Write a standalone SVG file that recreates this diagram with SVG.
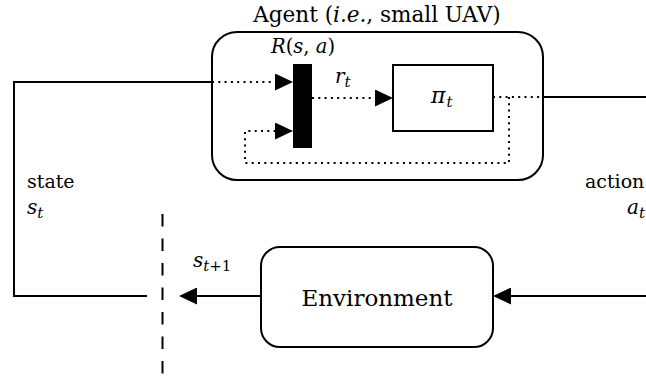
<svg xmlns="http://www.w3.org/2000/svg" width="646" height="378" viewBox="0 0 646 378">
<style>
  text { font-family: "DejaVu Serif", "Liberation Serif", serif; fill: #000; }
  .it { font-style: italic; }
  .box { fill: #fff; stroke: #000; stroke-width: 2; }
  .solid { fill: none; stroke: #000; stroke-width: 2; }
  .dot { fill: none; stroke: #000; stroke-width: 2; stroke-dasharray: 2 4.3; }
  .dash { fill: none; stroke: #000; stroke-width: 2; stroke-dasharray: 12.5 12; }
</style>
<defs>
  <marker id="ah" markerUnits="userSpaceOnUse" viewBox="0 0 18 17" refX="0" refY="8.5" markerWidth="18" markerHeight="17" orient="auto">
    <path d="M0,0 L18,8.5 L0,17 Z" fill="#000"/>
  </marker>
</defs>

<g id="agent">
  <rect class="box" x="212" y="32" width="331" height="148" rx="25" ry="25"/>
  <text x="377" y="22" font-size="21.5" text-anchor="middle">Agent (<tspan class="it">i.e.</tspan>, small UAV)</text>
</g>

<g id="reward">
  <rect x="293" y="64" width="19" height="84" fill="#000"/>
  <text x="303" y="53" font-size="19.5" text-anchor="middle"><tspan class="it">R</tspan>(<tspan class="it">s</tspan>, <tspan class="it">a</tspan>)</text>
</g>

<g id="policy">
  <rect class="box" x="393" y="65" width="100" height="66"/>
  <text x="431" y="103" font-size="22"><tspan class="it">π</tspan><tspan class="it" font-size="15" dx="1" dy="4">t</tspan></text>
</g>

<g id="environment">
  <rect class="box" x="261" y="247" width="232" height="100" rx="19" ry="19"/>
  <text x="377" y="306" font-size="23" text-anchor="middle">Environment</text>
</g>

<g id="connectors">
  <path class="solid" d="M212,82 H14 V296 H147"/>
  <path class="dot" d="M212,82 H275" marker-end="url(#ah)"/>
  <path class="dot" d="M312,98 H375" marker-end="url(#ah)"/>
  <path class="dot" d="M493,97 H543"/>
  <path class="dot" d="M509,97 V163 H245 V131 H275" marker-end="url(#ah)"/>
  <path class="solid" d="M543,97 H646"/>
  <path class="solid" d="M646,296 H511" marker-end="url(#ah)"/>
  <path class="solid" d="M261,296 H197" marker-end="url(#ah)"/>
  <path class="dash" d="M162.5,214 V375"/>
</g>

<g id="labels">
  <text x="335" y="83" font-size="20"><tspan class="it">r</tspan><tspan class="it" font-size="15" dy="4">t</tspan></text>
  <text x="27" y="188" font-size="19">state</text>
  <text x="27" y="214" font-size="20"><tspan class="it">s</tspan><tspan class="it" font-size="15" dy="4">t</tspan></text>
  <text x="585" y="188" font-size="19">action</text>
  <text x="627" y="214" font-size="20"><tspan class="it">a</tspan><tspan class="it" font-size="15" dy="4">t</tspan></text>
  <text x="193" y="267" font-size="20"><tspan class="it">s</tspan><tspan font-size="15" dy="4"><tspan class="it">t</tspan>+1</tspan></text>
</g>
</svg>
